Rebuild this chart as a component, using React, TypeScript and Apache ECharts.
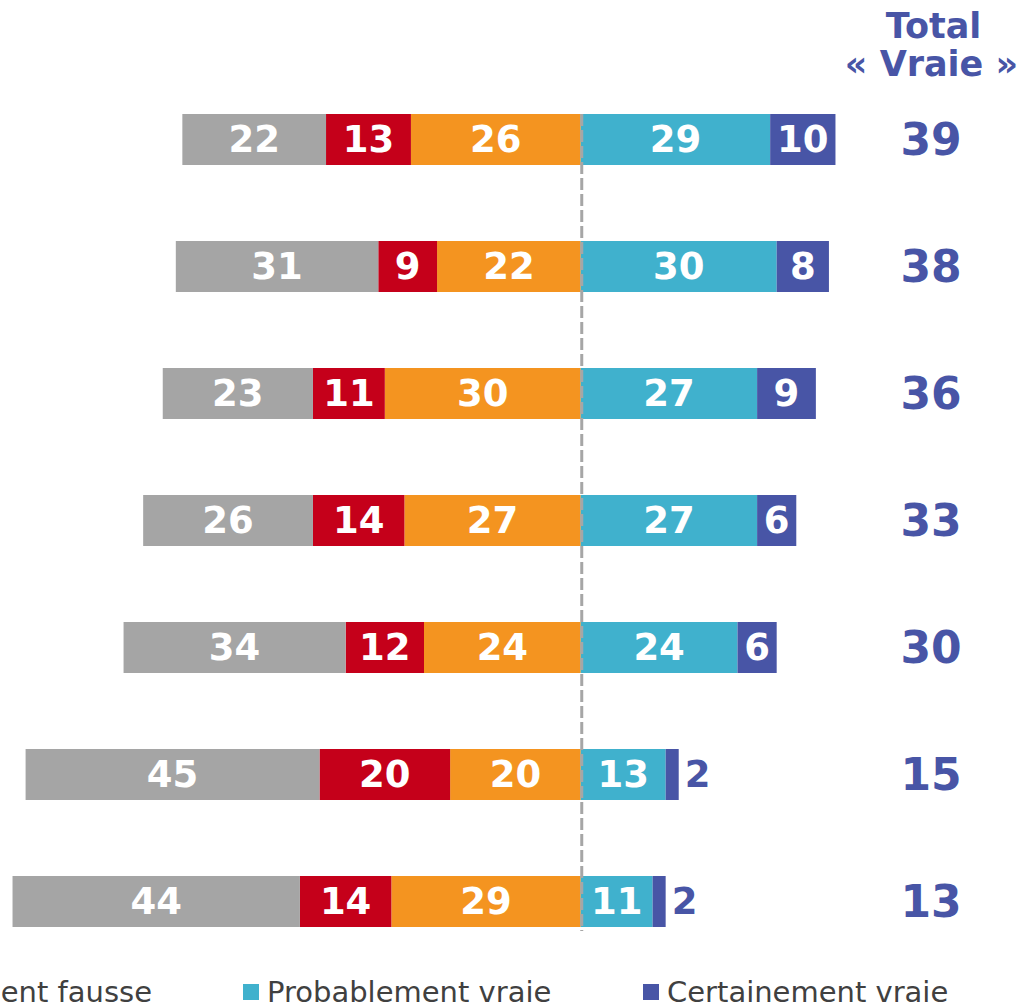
import React, { useEffect, useRef } from 'react';
import * as echarts from 'echarts';

const categories = ['Affirmation 1', 'Affirmation 2', 'Affirmation 3', 'Affirmation 4', 'Affirmation 5', 'Affirmation 6', 'Affirmation 7'];
const nspValues = [22, 31, 23, 26, 34, 45, 44];
const certFausseValues = [13, 9, 11, 14, 12, 20, 14];
const probFausseValues = [26, 22, 30, 27, 24, 20, 29];
const probVraieValues = [29, 30, 27, 27, 24, 13, 11];
const certVraieValues = [10, 8, 9, 6, 6, 2, 2];
const totalVraie = [39, 38, 36, 33, 30, 15, 13];
const headerLines = ['Total', '« Vraie »'];
const seriesNames = ['Ne sait pas', 'Certainement fausse', 'Probablement fausse', 'Probablement vraie', 'Certainement vraie'];

const GRAY = '#a5a5a5';
const RED = '#c5001a';
const ORANGE = '#f49420';
const CYAN = '#40b1cd';
const BLUE = '#4855a6';
const FONT = '"DejaVu Sans", Verdana, sans-serif';
const BAR_W = 51;

export default function App() {
  const ref = useRef<HTMLDivElement>(null);
  useEffect(() => {
    if (!ref.current) return;
    const chart = echarts.init(ref.current, null, { renderer: 'svg' });
    const labelStyle = {
      show: true,
      position: 'inside',
      color: '#ffffff',
      fontFamily: FONT,
      fontWeight: 'bold',
      fontSize: 37,
      formatter: (p: any) => String(Math.abs(p.value)),
    };
    const neg = (arr: number[]) => arr.map((v) => -v);
    const legendText = { color: '#404040', fontFamily: FONT, fontSize: 29, lineHeight: 29, padding: [0, 0, 0, 3] };
    const legendBase = { orient: 'horizontal', align: 'left', top: 977.5, itemWidth: 16, itemHeight: 16, icon: 'rect', itemGap: 91, padding: 0, textStyle: legendText, selectedMode: false };

    const headerEls = [
      { id: 'h1', type: 'text', x: 933.5, y: 25.5, z: 10, style: { text: headerLines[0], font: `bold 35px ${FONT}`, fill: BLUE, align: 'center', verticalAlign: 'middle' } },
      { id: 'h2', type: 'text', x: 931.5, y: 64, z: 10, style: { text: headerLines[1], font: `bold 35px ${FONT}`, fill: BLUE, align: 'center', verticalAlign: 'middle' } },
    ];

    const option: any = {
      animation: false,
      backgroundColor: '#ffffff',
      grid: { left: 6, right: 181, top: 76, bottom: 41, containLabel: false, outerBoundsMode: 'none' },
      xAxis: { type: 'value', min: -88, max: 40, show: false },
      yAxis: [
        { type: 'category', data: categories, inverse: true, axisLine: { show: false }, axisTick: { show: false }, axisLabel: { show: false }, splitLine: { show: false } },
        {
          type: 'category', data: categories, inverse: true, position: 'right',
          axisLine: { show: false }, axisTick: { show: false }, splitLine: { show: false },
          axisLabel: {
            show: true, margin: 89, align: 'center', color: BLUE, fontFamily: FONT, fontWeight: 'bold', fontSize: 44,
            formatter: (_v: string, i: number) => String(totalVraie[i]),
          },
        },
      ],
      legend: [
        { ...legendBase, right: 1290, data: [seriesNames[0], seriesNames[1]] },
        { ...legendBase, right: 871, data: [seriesNames[2]] },
        { ...legendBase, left: 243, data: [seriesNames[3]] },
        { ...legendBase, left: 643, data: [seriesNames[4]] },
      ],
      graphic: { elements: headerEls },
      series: [
        { name: seriesNames[2], type: 'bar', stack: 'all', barWidth: BAR_W, data: neg(probFausseValues), itemStyle: { color: ORANGE }, label: labelStyle },
        { name: seriesNames[1], type: 'bar', stack: 'all', barWidth: BAR_W, data: neg(certFausseValues), itemStyle: { color: RED }, label: labelStyle },
        { name: seriesNames[0], type: 'bar', stack: 'all', barWidth: BAR_W, data: neg(nspValues), itemStyle: { color: GRAY }, label: labelStyle },
        { name: seriesNames[3], type: 'bar', stack: 'all', barWidth: BAR_W, data: probVraieValues, itemStyle: { color: CYAN }, label: labelStyle },
        {
          name: seriesNames[4], type: 'bar', stack: 'all', barWidth: BAR_W,
          data: certVraieValues.map((v) => (v < 4 ? { value: v, label: { position: 'right', color: BLUE, distance: 6 } } : v)),
          itemStyle: { color: BLUE }, label: labelStyle,
        },
      ],
    };
    chart.setOption(option);

    const x0 = chart.convertToPixel({ xAxisIndex: 0 } as any, 0) as number;
    const yTop = (chart.convertToPixel({ yAxisIndex: 0 } as any, categories[0]) as number) - BAR_W / 2;
    const yBot = (chart.convertToPixel({ yAxisIndex: 0 } as any, categories[categories.length - 1]) as number) + BAR_W / 2 + 4;
    chart.setOption({
      graphic: {
        elements: [
          ...headerEls,
          { id: 'zero', type: 'line', z: 100, shape: { x1: x0 + 1, y1: yTop, x2: x0 + 1, y2: yBot }, style: { stroke: '#a6a6a6', lineWidth: 3, lineDash: [12, 4] } },
        ],
      },
    });

    return () => chart.dispose();
  }, []);
  return <div ref={ref} style={{ position: 'absolute', left: 0, top: 0, width: 1023, height: 1006 }} />;
}
